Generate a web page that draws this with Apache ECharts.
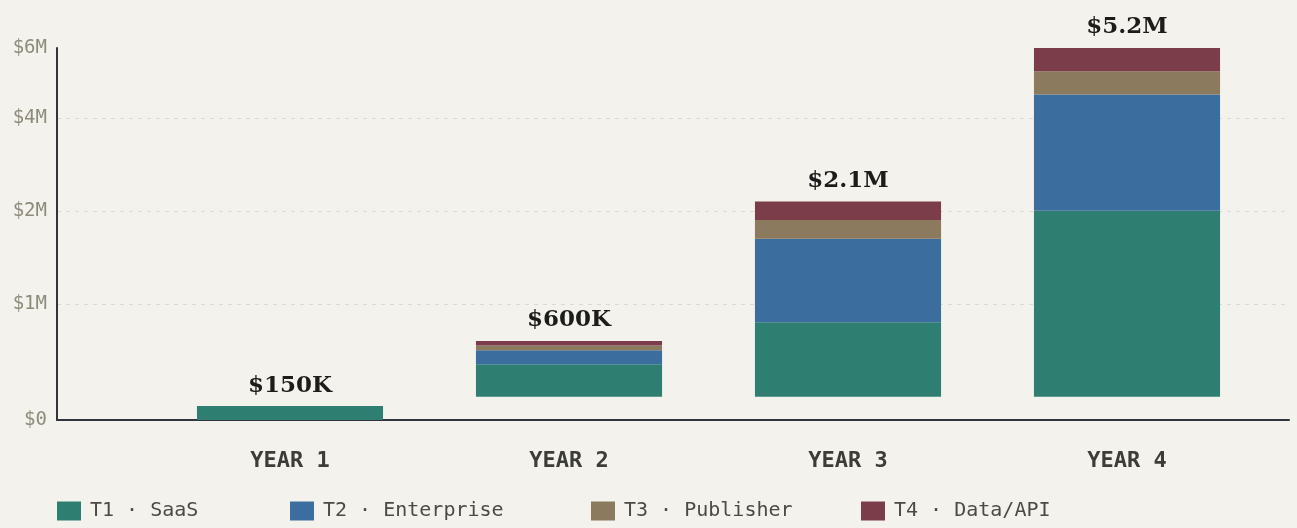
<!DOCTYPE html>
<html>
<head>
<meta charset="utf-8">
<title>Revenue by tier</title>
<script src="https://cdn.jsdelivr.net/npm/echarts@6/dist/echarts.min.js"></script>
<style>
  html, body { margin: 0; padding: 0; background: #f4f2ed; }
  #chart { width: 1297px; height: 528px; }
</style>
</head>
<body>
<div id="chart"></div>
<script>
// revenue per tier, in $M
const years = ['YEAR 1', 'YEAR 2', 'YEAR 3', 'YEAR 4']
const saas = [0.15, 0.35, 0.8, 2.0]
const enterprise = [0, 0.15, 0.9, 1.25]
const publisher = [0, 0.05, 0.2, 0.25]
const dataApi = [0, 0.05, 0.2, 1.7]

const tierNames = ['T1 · SaaS', 'T2 · Enterprise', 'T3 · Publisher', 'T4 · Data/API']

// left axis labels and the value (on the floor axis) where each one sits
const tickLabels = ['$0', '$1M', '$2M', '$4M', '$6M']
const tickValues = [0, 1.25, 2.25, 3.25, 4]

const tierColors = ['#2e7f72', '#3b6e9e', '#8b7a5e', '#7b3d4a']
const legendLeft = [57, 290, 591, 861]
const monoFont = 'DejaVu Sans Mono'
const axisColor = '#30343c'

let tiers = [saas, enterprise, publisher, dataApi]
let totals = years.map((y, i) => tiers.reduce((s, t) => s + t[i], 0))

function money(v) {
    if (v >= 1) {
        return '$' + v.toFixed(1) + 'M'
    }
    return '$' + Math.round(v * 1000) + 'K'
}

let totalLabel = {
    show: true,
    position: 'top',
    distance: 9,
    color: '#1c1c1a',
    fontFamily: 'DejaVu Serif',
    fontWeight: 'bold',
    fontSize: 23,
    formatter: p => money(totals[p.dataIndex]),
}

let series = [
    // year 1 stands on the axis floor
    {
        name: tierNames[0],
        type: 'bar',
        xAxisIndex: 1,
        yAxisIndex: 1,
        stack: 'rev',
        barWidth: '66.7%',
        data: saas.map((v, i) => i === 0 ? v : '-'),
        itemStyle: {color: tierColors[0]},
        label: totalLabel,
    },
]
// later years stand on the raised zero line
tiers.forEach((vals, k) => {
    series.push({
        name: tierNames[k],
        type: 'bar',
        xAxisIndex: 1,
        yAxisIndex: 2,
        stack: 'rev',
        barWidth: '66.7%',
        data: vals.map((v, i) => i === 0 ? '-' : v),
        itemStyle: {color: tierColors[k]},
        label: k === tiers.length - 1 ? totalLabel : {show: false},
    })
})

let chart = echarts.init(document.getElementById('chart'))
chart.setOption({
    animation: false,
    backgroundColor: '#f4f2ed',
    grid: [
        // frame: axis lines, left labels, grid lines
        {left: 57, right: 8, top: 48, bottom: 108, outerBoundsMode: 'none'},
        // bars
        {left: 150.5, right: 30.5, top: 48, bottom: 108, outerBoundsMode: 'none'},
    ],
    legend: tierNames.map((name, k) => ({
        data: [name],
        left: legendLeft[k],
        top: 501,
        padding: 0,
        icon: 'rect',
        itemWidth: 24,
        itemHeight: 19,
        textStyle: {color: '#4b4a45', fontFamily: monoFont, fontSize: 20, padding: [4, 0, 0, 4]},
    })),
    xAxis: [
        {
            gridIndex: 0,
            type: 'value',
            min: 0,
            max: 1,
            axisLine: {show: true, onZero: false, lineStyle: {color: axisColor, width: 2}},
            axisTick: {show: false},
            axisLabel: {show: false},
            splitLine: {show: false},
        },
        {
            gridIndex: 1,
            type: 'category',
            data: years,
            axisLine: {show: false},
            axisTick: {show: false},
            axisLabel: {
                margin: 30,
                color: '#3c3c38',
                fontFamily: monoFont,
                fontWeight: 'bold',
                fontSize: 22,
            },
        },
    ],
    yAxis: [
        {
            gridIndex: 0,
            type: 'value',
            min: 0,
            max: 4,
            axisLine: {show: true, onZero: false, lineStyle: {color: axisColor, width: 2}},
            axisTick: {show: false, customValues: tickValues},
            axisLabel: {
                customValues: tickValues,
                showMinLabel: true,
                showMaxLabel: true,
                formatter: v => {
                    let i = tickValues.findIndex(t => Math.abs(t - v) < 1e-6)
                    return i < 0 ? '' : tickLabels[i]
                },
                margin: 10,
                color: '#8d8c7b',
                fontFamily: monoFont,
                fontSize: 19,
            },
            splitLine: {
                show: true,
                showMaxLine: false,
                lineStyle: {color: '#dcd9d1', type: [4, 5], width: 1},
            },
        },
        {gridIndex: 1, type: 'value', min: 0, max: 4, show: false},
        {gridIndex: 1, type: 'value', min: -0.25, max: 3.75, show: false},
    ],
    series: series,
})
</script>
</body>
</html>
